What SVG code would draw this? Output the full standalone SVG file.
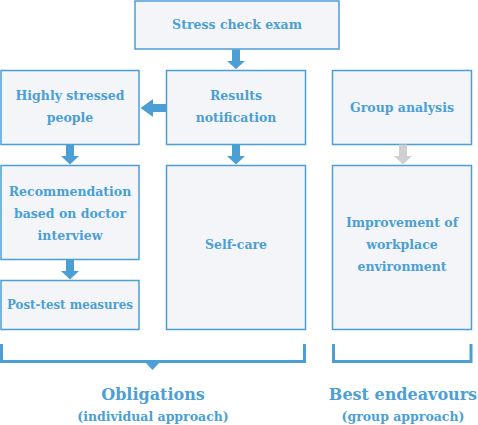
<svg xmlns="http://www.w3.org/2000/svg" width="478" height="425" viewBox="0 0 478 425">
<style>
.box{fill:#f3f5f9;stroke:#4b9fd5;stroke-width:1.5}
.t{font-family:"DejaVu Serif","Liberation Serif",serif;font-weight:bold;font-size:12.5px;fill:#4b9fd5;text-anchor:middle}
.big{font-size:16px}
.sub{font-size:12.5px}
.arr{fill:#4b9fd5}
.garr{fill:#cfcfcf}
.br{fill:none;stroke:#4b9fd5;stroke-width:3}
</style>
<rect width="478" height="425" fill="#ffffff"/>
<g id="stress-check">
<rect class="box" x="135" y="1" width="204" height="48"/>
<text class="t" x="237" y="29">Stress check exam</text>
</g>
<g id="highly-stressed">
<rect class="box" x="1" y="70.5" width="138" height="74"/>
<text class="t" x="70" y="100">Highly stressed</text>
<text class="t" x="70" y="122">people</text>
</g>
<g id="results">
<rect class="box" x="166.5" y="70.5" width="139" height="74"/>
<text class="t" x="236" y="100">Results</text>
<text class="t" x="236" y="122">notification</text>
</g>
<g id="group-analysis">
<rect class="box" x="332.5" y="70.5" width="139" height="74"/>
<text class="t" x="402" y="112">Group analysis</text>
</g>
<g id="recommendation">
<rect class="box" x="1" y="165.5" width="138" height="94"/>
<text class="t" x="70" y="196">Recommendation</text>
<text class="t" x="70" y="218">based on doctor</text>
<text class="t" x="70" y="240">interview</text>
</g>
<g id="post-test">
<rect class="box" x="1" y="280.5" width="138" height="49"/>
<text class="t" x="70" y="309" textLength="126" lengthAdjust="spacingAndGlyphs">Post-test measures</text>
</g>
<g id="self-care">
<rect class="box" x="166.5" y="165.5" width="139" height="164"/>
<text class="t" x="236" y="249">Self-care</text>
</g>
<g id="improvement">
<rect class="box" x="332.5" y="165.5" width="139" height="164"/>
<text class="t" x="402" y="227">Improvement of</text>
<text class="t" x="402" y="249">workplace</text>
<text class="t" x="402" y="271">environment</text>
</g>
<g id="connectors">
<path class="arr" d="M232,49.5 H240 V61 H245 L236,69 L227,61 H232 Z"/>
<path class="arr" d="M166,104 V112 H153 V117 L140.5,108 L153,99 V104 Z"/>
<path class="arr" d="M66,144.5 H74 V156 H79 L70,164.5 L61,156 H66 Z"/>
<path class="arr" d="M232,144.5 H240 V156 H245 L236,164.5 L227,156 H232 Z"/>
<path class="garr" d="M399,144.5 H407 V156 H412 L403,164.5 L394,156 H399 Z"/>
<path class="arr" d="M66,259.5 H74 V271 H79 L70,279.5 L61,271 H66 Z"/>
</g>
<g id="obligations">
<path class="br" d="M1.5,344 V361.5 H304.5 V344"/>
<path class="arr" d="M145,362 H160 L152.5,370 Z"/>
<text class="t big" x="153" y="400">Obligations</text>
<text class="t sub" x="153" y="421">(individual approach)</text>
</g>
<g id="best-endeavours">
<path class="br" d="M333.5,344 V361.5 H471 V344"/>
<text class="t big" x="403" y="400">Best endeavours</text>
<text class="t sub" x="403" y="421">(group approach)</text>
</g>
</svg>
